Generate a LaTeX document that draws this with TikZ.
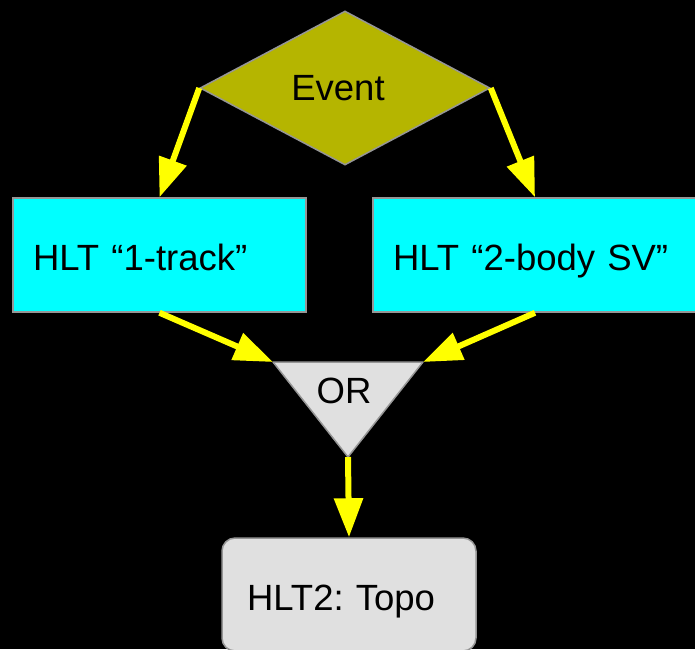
\documentclass[tikz,border=0pt]{standalone}
\usepackage{fontspec}
\setmainfont{Liberation Sans}
\usetikzlibrary{shapes.geometric,arrows.meta}
\definecolor{eventolive}{RGB}{181,181,0}
\definecolor{boxcyan}{RGB}{0,255,255}
\definecolor{orgray}{RGB}{224,224,224}
\definecolor{edgegray}{RGB}{150,150,150}
\definecolor{flowyellow}{RGB}{255,255,0}
\frenchspacing
\begin{document}
\begin{tikzpicture}[x=1pt,y=-1pt,
    every node/.style={font=\fontsize{36.5}{40}\selectfont, text=black},
    box/.style={draw=edgegray, line width=1.5pt, fill=boxcyan, minimum height=114pt,
      text height=30pt, text depth=0pt, inner xsep=20pt, align=left},
    flow/.style={color=flowyellow, line width=6pt, -{Triangle[length=39pt,width=28pt]}}]
        \useasboundingbox[fill=black] (0,0) rectangle (695,649);

        \node [diamond, aspect=1.88, minimum width=290pt, minimum height=154pt, inner sep=0pt,
          draw=edgegray, line width=1.5pt, fill=eventolive,
          label={[xshift=-7pt]center:Event}] (event) at (345,88) {};

        \node [box, text width=253pt] (track) at (159.5,255) {HLT “1-track”};
        \node [box, text width=284pt] (sv) at (535,255) {HLT “2-body SV”};

        \coordinate (orL) at (273,362);
        \coordinate (orR) at (423,362);
        \coordinate (orB) at (348,457);
        \filldraw [fill=orgray, draw=edgegray, line width=1.5pt, line join=round] (orL) -- (orR) -- (orB) -- cycle;
        \node (or) at (344,391) {OR};

        \node [draw=edgegray, line width=1.5pt, fill=orgray, rounded corners=13pt,
          minimum height=113pt, text height=31pt, text depth=0pt, text width=204pt,
          inner xsep=25pt, align=left] (topo) at (349,594.5) {HLT2: Topo};

        \draw [flow] (event.west) -- (track.north);
        \draw [flow] (event.east) -- (sv.north);
        \draw [flow] (track.south) -- (orL);
        \draw [flow] (sv.south) -- (orR);
        \draw [flow] (orB) -- (topo.north);
      \end{tikzpicture}
\end{document}
